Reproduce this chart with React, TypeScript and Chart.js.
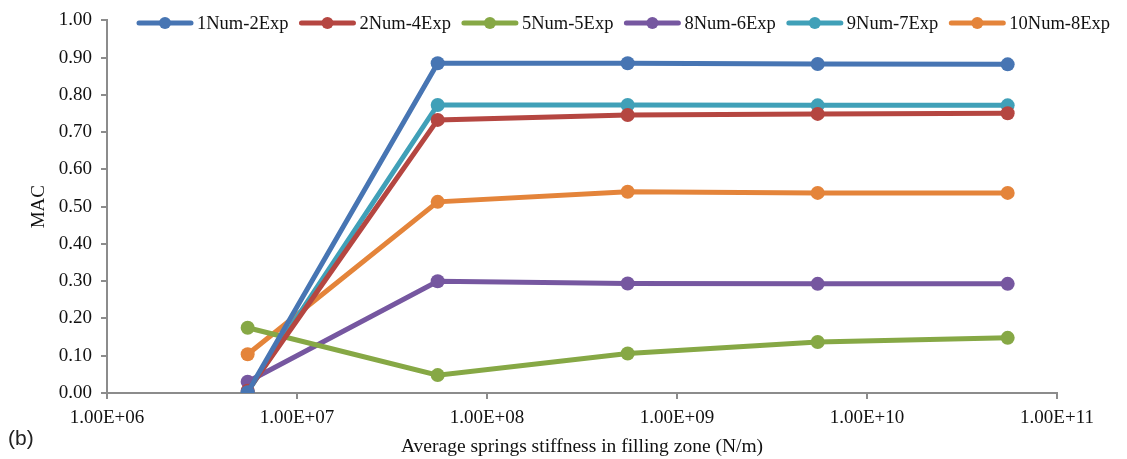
import React, { useEffect, useRef } from "react";
import { Chart, registerables } from "chart.js";

Chart.register(...registerables);

const stiffness = [5.5e6, 5.5e7, 5.5e8, 5.5e9, 5.5e10];
const seriesNames = ["1Num-2Exp", "2Num-4Exp", "5Num-5Exp", "8Num-6Exp", "9Num-7Exp", "10Num-8Exp"];
const s1Num2Exp = [0.002, 0.885, 0.885, 0.883, 0.882];
const s2Num4Exp = [0.006, 0.733, 0.746, 0.749, 0.751];
const s5Num5Exp = [0.175, 0.048, 0.106, 0.137, 0.148];
const s8Num6Exp = [0.03, 0.3, 0.294, 0.293, 0.293];
const s9Num7Exp = [0.003, 0.773, 0.773, 0.772, 0.772];
const s10Num8Exp = [0.104, 0.513, 0.54, 0.537, 0.537];
const seriesValues = [s1Num2Exp, s2Num4Exp, s5Num5Exp, s8Num6Exp, s9Num7Exp, s10Num8Exp];
const seriesColors = ["#4775B3", "#B54641", "#86A845", "#7657A0", "#40A0B8", "#E4843A"];
const xTickValues = [1e6, 1e7, 1e8, 1e9, 1e10, 1e11];
const xTickLabels = ["1.00E+06", "1.00E+07", "1.00E+08", "1.00E+09", "1.00E+10", "1.00E+11"];

const FONT = "'Liberation Serif', 'Times New Roman', serif";

const legendPlugin = {
  id: "lineLegend",
  afterDraw(chart: any) {
    const ctx = chart.ctx;
    ctx.save();
    ctx.font = `18.5px ${FONT}`;
    ctx.textBaseline = "middle";
    let x = 137;
    const y = 23;
    seriesNames.forEach((name, i) => {
      const c = seriesColors[i];
      ctx.strokeStyle = c;
      ctx.lineWidth = 5;
      ctx.lineCap = "round";
      ctx.beginPath();
      ctx.moveTo(x + 2, y);
      ctx.lineTo(x + 54, y);
      ctx.stroke();
      ctx.fillStyle = c;
      ctx.beginPath();
      ctx.arc(x + 28, y, 6, 0, Math.PI * 2);
      ctx.fill();
      ctx.fillStyle = "#111";
      ctx.textAlign = "left";
      ctx.fillText(name, x + 60, y + 1);
      x += 60 + ctx.measureText(name).width + 11;
    });
    ctx.restore();
  },
};

const labelPlugin = {
  id: "bLabel",
  afterDraw(chart: any) {
    const ctx = chart.ctx;
    ctx.save();
    ctx.font = "21px 'Liberation Sans', Arial, sans-serif";
    ctx.fillStyle = "#222";
    ctx.textBaseline = "middle";
    ctx.textAlign = "left";
    ctx.fillText("(b)", 8, 439);
    ctx.restore();
  },
};

export default function App() {
  const ref = useRef<HTMLCanvasElement>(null);
  useEffect(() => {
    if (!ref.current) return;
    const chart = new Chart(ref.current, {
      type: "line",
      data: {
        datasets: seriesNames.map((name, i) => ({
          label: name,
          data: stiffness.map((x, j) => ({ x, y: seriesValues[i][j] })),
          borderColor: seriesColors[i],
          backgroundColor: seriesColors[i],
          borderWidth: 5,
          pointRadius: 7,
          pointHoverRadius: 7,
          pointBorderWidth: 0,
          tension: 0,
          fill: false,
        })),
      },
      options: {
        responsive: false,
        animation: false,
        layout: { padding: { left: 28, right: 70, top: 20, bottom: 0 } },
        plugins: { legend: { display: false }, tooltip: { enabled: false } },
        scales: {
          x: {
            type: "logarithmic",
            min: 1e6,
            max: 1e11,
            afterBuildTicks: (scale: any) => {
              scale.ticks = xTickValues.map((v) => ({ value: v, major: true }));
            },
            afterFit: (scale: any) => {
              scale.height = 66;
            },
            border: { color: "#8c8c8c", width: 2 },
            grid: { drawOnChartArea: false, drawTicks: true, tickLength: 6, color: "#8c8c8c", lineWidth: 2 },
            ticks: {
              autoSkip: false,
              maxRotation: 0,
              padding: 8,
              color: "#111",
              font: { family: FONT, size: 19 },
              callback: (v: any) => {
                const idx = xTickValues.indexOf(Number(v));
                return idx >= 0 ? xTickLabels[idx] : "";
              },
            },
            title: {
              display: true,
              text: "Average springs stiffness in filling zone (N/m)",
              color: "#111",
              font: { family: FONT, size: 19.5 },
              padding: { top: 0, bottom: 0 },
            },
          },
          y: {
            min: 0,
            max: 1,
            afterFit: (scale: any) => {
              scale.width = 79;
            },
            border: { color: "#8c8c8c", width: 2 },
            grid: { drawOnChartArea: false, drawTicks: true, tickLength: 6, color: "#8c8c8c", lineWidth: 2 },
            ticks: {
              stepSize: 0.1,
              padding: 9,
              color: "#111",
              font: { family: FONT, size: 19 },
              callback: (v: any) => Number(v).toFixed(2),
            },
            title: {
              display: true,
              text: "MAC",
              color: "#111",
              font: { family: FONT, size: 19 },
              padding: { top: 0, bottom: 0 },
            },
          },
        },
      },
      plugins: [legendPlugin, labelPlugin],
    });
    return () => chart.destroy();
  }, []);
  return (
    <div style={{ position: "fixed", left: 0, top: 0, width: 1127, height: 459, background: "#fff" }}>
      <canvas ref={ref} width={1127} height={459} style={{ width: 1127, height: 459, display: "block" }} />
    </div>
  );
}
